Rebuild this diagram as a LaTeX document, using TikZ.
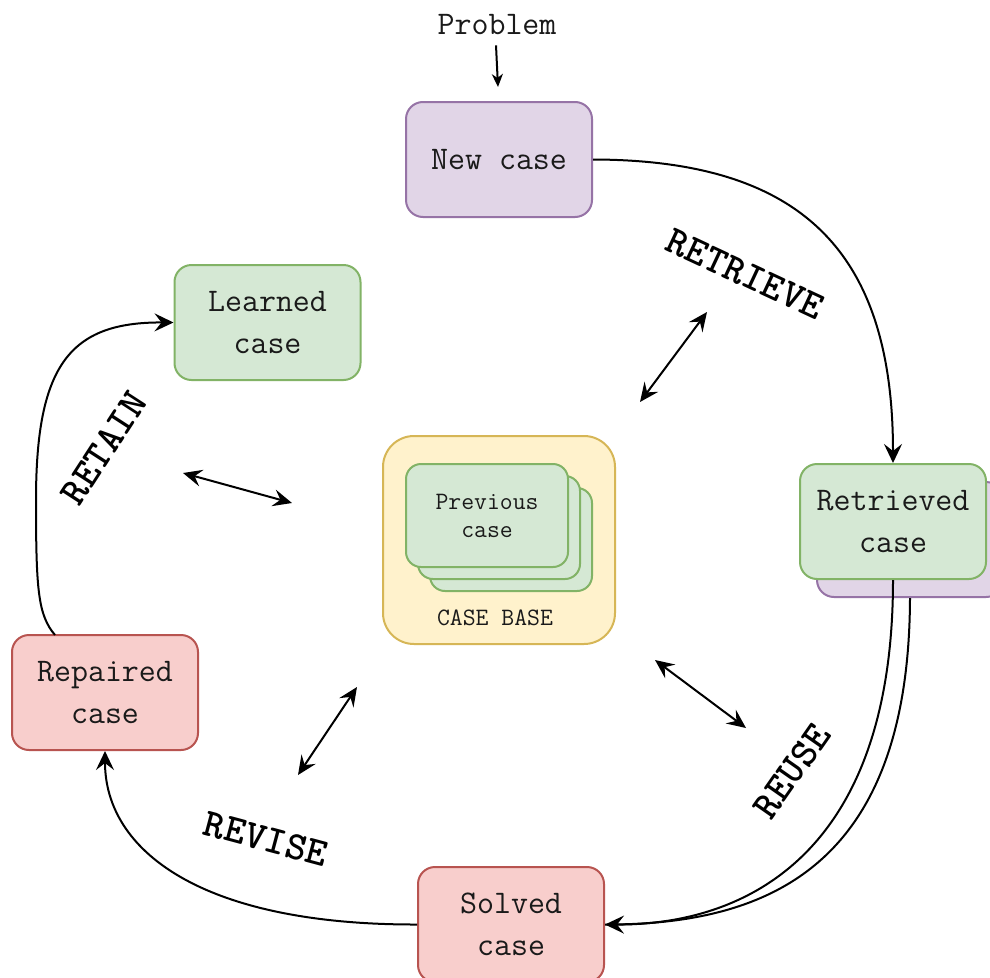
\documentclass[tikz,border=0pt]{standalone}
\usepackage{fontspec}
\usetikzlibrary{arrows.meta}
\definecolor{pfill}{HTML}{E1D5E7}\definecolor{pdraw}{HTML}{9673A6}
\definecolor{gfill}{HTML}{D5E8D4}\definecolor{gdraw}{HTML}{82B366}
\definecolor{rfill}{HTML}{F8CECC}\definecolor{rdraw}{HTML}{B85450}
\definecolor{yfill}{HTML}{FFF2CC}\definecolor{ydraw}{HTML}{D6B656}
\definecolor{txt}{HTML}{1A1A1A}
\tikzset{
  box/.style={draw, line width=2pt, rounded corners=17pt, minimum width=186pt, minimum height=115pt, inner sep=0pt, align=center, text=txt, font=\ttfamily\fontsize{33}{42}\selectfont},
  purplebox/.style={box, fill=pfill, draw=pdraw},
  greenbox/.style={box, fill=gfill, draw=gdraw},
  redbox/.style={box, fill=rfill, draw=rdraw},
  prevbox/.style={draw=gdraw, fill=gfill, line width=2pt, rounded corners=15pt, minimum width=162pt, minimum height=103pt, inner sep=0pt, align=center, text=txt, font=\ttfamily\fontsize{25}{28}\selectfont},
  phase/.style={font=\ttfamily\bfseries\fontsize{40}{44}\selectfont, inner sep=0pt},
  tip/.style={},
  arr/.style={line width=2pt, -{Stealth[length=19pt,width=18pt,inset=7pt]}},
  darr/.style={line width=2pt, {Stealth[length=19pt,width=17pt,inset=7pt]}-{Stealth[length=19pt,width=17pt,inset=7pt]}},
}
\begin{document}
\begin{tikzpicture}[x=1pt,y=-1pt]
\useasboundingbox (0,0) rectangle (990,977);
\clip (0,0) rectangle (990,977);
\fill[white] (0,0) rectangle (990,977);

% nodes
\node[font=\ttfamily\fontsize{33}{36}\selectfont, text=txt, inner sep=0pt] (prob) at (497,25) {Problem};
\coordinate (probend) at (498,87);
\node[purplebox] (new) at (499,159.5) {New case};
\node[greenbox] (lrn) at (267.5,322.5) {Learned\\case};
\node[draw=ydraw, fill=yfill, line width=2pt, rounded corners=31pt, minimum width=232pt, minimum height=208pt, inner sep=0pt] (cb) at (499,540) {};
\node[prevbox] (pv3) at (511,539.5) {};
\node[prevbox] (pv2) at (499,527.5) {};
\node[prevbox] (pv1) at (487,515.5) {Previous\\case};
\node[font=\ttfamily\fontsize{25}{28}\selectfont, text=txt, inner sep=0pt] (cbl) at (495,618) {CASE BASE};
\node[purplebox] (retb) at (910,539.5) {};
\node[greenbox] (ret) at (893,521.5) {Retrieved\\case};
\node[redbox] (rep) at (105,692.5) {Repaired\\case};
\node[redbox] (sol) at (511,924.5) {Solved\\case};

% phase labels
\node[phase, rotate=-25] (lretrieve) at (745,274) {RETRIEVE};
\node[phase, rotate=57] (lretain) at (104,448) {RETAIN};
\node[phase, rotate=55] (lreuse) at (792,771) {REUSE};
\node[phase, rotate=-15] (lrevise) at (266,839) {REVISE};

% connectors
\draw[line width=2pt, -{Stealth[length=13pt,width=11pt,inset=4pt]}] (prob.south) ++(-1,10) coordinate (probstart) -- (probend);
\draw[arr] (new.east) .. controls (800,160) and (893,250) .. (ret.north);
\draw[arr] (ret.south) .. controls (893,850) and (750,925) .. (sol.east);
\draw[line width=2pt] (retb.south) .. controls (909,865) and (770,925) .. (sol.east);
\draw[arr] (sol.west) .. controls (200,925) and (105,850) .. (rep.south);
\coordinate (repstart) at (55,635);
\draw[arr] (repstart) .. controls (38,615) and (36,590) .. (36,500) .. controls (36,365) and (70,322) .. (lrn.west);

% double arrows
\coordinate (a1) at (183,473); \coordinate (b1) at (292,503);
\coordinate (a2) at (640,402); \coordinate (b2) at (707,312);
\coordinate (a3) at (655,660); \coordinate (b3) at (746,728);
\coordinate (a4) at (357,687); \coordinate (b4) at (298,775);
\draw[darr] (a1) -- (b1);
\draw[darr] (a2) -- (b2);
\draw[darr] (a3) -- (b3);
\draw[darr] (a4) -- (b4);
\end{tikzpicture}
\end{document}
